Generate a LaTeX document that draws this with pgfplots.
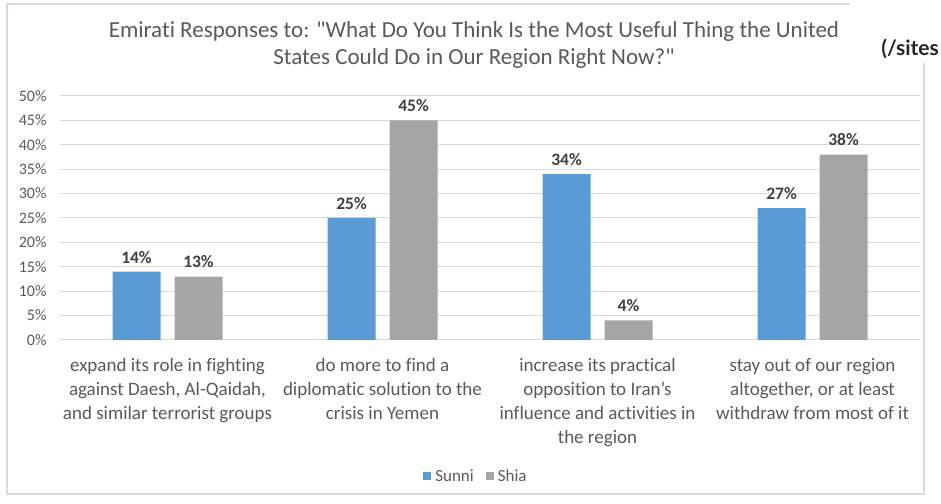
\documentclass[border=0pt]{standalone}
\usepackage{fontspec}
\setmainfont[Ligatures={NoCommon}]{Carlito}
\newfontfamily\plainfont[Ligatures={NoCommon}]{Carlito}
\newfontfamily\sitesfont{Lato}
\usepackage{pgfplots}
\pgfplotsset{compat=1.18}
\definecolor{sunni}{HTML}{5B9BD5}
\definecolor{shia}{HTML}{A5A5A5}
\definecolor{txt}{HTML}{595959}
\definecolor{lbl}{HTML}{404040}
\definecolor{gridc}{HTML}{D9D9D9}
\definecolor{framec}{HTML}{D5DBE3}
\begin{document}
\begin{tikzpicture}[x=1pt,y=1pt]
\path[use as bounding box] (0,0) rectangle (941,503);
\draw[framec, line width=1.6pt] (7,9) rectangle (924,499);
\fill[white] (850,440) rectangle (941,503);
\node[anchor=east, font=\sitesfont\fontsize{21}{24}\selectfont\bfseries, text=black!85, inner sep=0pt] at (939,454) {(/sites};
\node[align=center, font=\plainfont\fontsize{23}{27}\selectfont, text=txt] at (474,458.5) {Emirati Responses to: "What Do You Think Is the Most Useful Thing the United\\States Could Do in Our Region Right Now?"};
\begin{axis}[
  at={(60pt,163pt)}, anchor=south west,
  scale only axis, width=860pt, height=244pt,
  ybar=14pt, bar width=48pt,
  xmin=-0.5, xmax=3.5, ymin=0, ymax=50,
  xtick={0,1,2,3},
  xticklabels={{expand its role in fighting\\against Daesh, Al-Qaidah,\\and similar terrorist groups},
    {do more to find a\\diplomatic solution to the\\crisis in Yemen},
    {increase its practical\\opposition to Iran’s\\influence and activities in\\the region},
    {stay out of our region\\altogether, or at least\\withdraw from most of it}},
  xticklabel style={align=center, font=\fontsize{19}{24}\selectfont, text=txt, yshift=-11pt},
  ytick={0,5,...,50},
  yticklabel={\pgfmathprintnumber{\tick}\%},
  yticklabel style={font=\fontsize{16}{18}\selectfont, text=txt, xshift=-10pt},
  /pgf/number format/assume math mode=true,
  ymajorgrids, grid style={gridc, line width=1pt},
  axis line style={draw=none},
  tick style={draw=none},
  nodes near coords={\pgfmathprintnumber{\pgfplotspointmeta}\%},
  every node near coord/.append style={font=\fontsize{17.5}{20}\selectfont\bfseries, text=lbl, yshift=5pt},
  legend columns=2,
  legend style={at={(0.4837,-0.557)}, anchor=center, draw=none, fill=none,
    font=\fontsize{17}{20}\selectfont, text=txt,
    /tikz/every odd column/.append style={column sep=2pt},
    /tikz/every even column/.append style={column sep=10pt}},
  legend image code/.code={\fill[#1] (0pt,-4pt) rectangle (8pt,4pt);},
]
\addplot[fill=sunni, draw=none] coordinates {(0,14) (1,25) (2,34) (3,27)};
\addplot[fill=shia, draw=none] coordinates {(0,13) (1,45) (2,4) (3,38)};
\legend{Sunni,Shia}
\end{axis}
\end{tikzpicture}
\end{document}
